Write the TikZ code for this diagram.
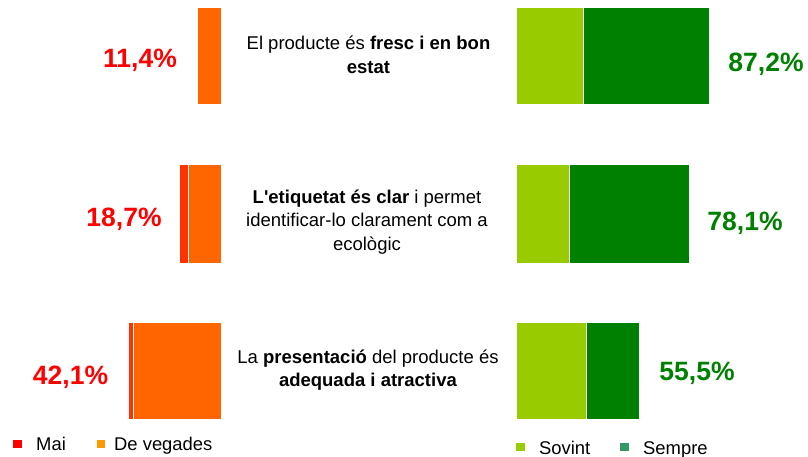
\documentclass[tikz,border=0pt]{standalone}
\usepackage{fontspec}
\setmainfont{Liberation Sans}
\usetikzlibrary{calc}
\definecolor{maiColor}{HTML}{FF3300}
\definecolor{vegadesColor}{HTML}{FF6600}
\definecolor{sovintColor}{HTML}{99CC00}
\definecolor{sempreColor}{HTML}{008000}
\definecolor{maiKey}{HTML}{FF0000}
\definecolor{vegadesKey}{HTML}{FF9900}
\definecolor{sempreKey}{HTML}{339966}
\tikzset{bar/.style = {draw=white, line width=0.6pt}}
\tikzset{pctNeg/.style = {anchor=base, text=red, font=\fontsize{26.5}{30}\selectfont\bfseries, inner sep=0pt}}
\tikzset{pctPos/.style = {anchor=base, text=sempreColor, font=\fontsize{26.5}{30}\selectfont\bfseries, inner sep=0pt}}
\tikzset{item/.style = {align=center, inner sep=0pt, font=\fontsize{18.5}{23.5}\selectfont}}
\tikzset{keytext/.style = {anchor=base west, inner sep=0pt, font=\fontsize{18.4}{22}\selectfont}}

\begin{document}
\begin{tikzpicture}[x=1pt, y=-1pt]
    \useasboundingbox (0,0) rectangle (808,457);
    \def\mid{221}
    \def\start{516}

    % row 1
    \filldraw[bar, fill=vegadesColor] (197,7) rectangle (\mid,104);
    \filldraw[bar, fill=sovintColor] (\start,7) rectangle (583.5,104);
    \filldraw[bar, fill=sempreColor] (583.5,7) rectangle (709.5,104);
    \node[pctNeg] (neg1) at (140,67.5) {11,4\%};
    \node[pctPos] (pos1) at (766,71.5) {87,2\%};
    \node[item] (item1) at (368.5,55) {El producte és \textbf{fresc i en bon}\\\textbf{estat}};

    % row 2
    \filldraw[bar, fill=maiColor] (179.5,164) rectangle (188,263);
    \filldraw[bar, fill=vegadesColor] (188,164) rectangle (\mid,263);
    \filldraw[bar, fill=sovintColor] (\start,164) rectangle (569,263);
    \filldraw[bar, fill=sempreColor] (569,164) rectangle (689.5,263);
    \node[pctNeg] (neg2) at (124,226) {18,7\%};
    \node[pctPos] (pos2) at (745,230) {78,1\%};
    \node[item] (item2) at (367,222) {\textbf{L\textquotesingle etiquetat és clar} i permet\\identificar-lo clarament com a\\ecològic};

    % row 3
    \filldraw[bar, fill=maiColor] (128.5,322.5) rectangle (133,419.5);
    \filldraw[bar, fill=vegadesColor] (133,322.5) rectangle (\mid,419.5);
    \filldraw[bar, fill=sovintColor] (\start,322.5) rectangle (586,419.5);
    \filldraw[bar, fill=sempreColor] (586,322.5) rectangle (639,419.5);
    \node[pctNeg] (neg3) at (70.5,384) {42,1\%};
    \node[pctPos] (pos3) at (697,380) {55,5\%};
    \node[item] (item3) at (368,370) {La \textbf{presentació} del producte és\\\textbf{adequada i atractiva}};

    % legend
    \fill[maiKey] (12.5,439.5) rectangle (21.5,447.5);
    \node[keytext] (mai) at (36,450.5) {Mai};
    \fill[vegadesKey] (97,439.5) rectangle (105,447.5);
    \node[keytext] (vegades) at (114,450.5) {De vegades};
    \fill[sovintColor] (515.5,442.5) rectangle (524.5,450.5);
    \node[keytext] (sovint) at (539,454) {Sovint};
    \fill[sempreKey] (620,442.5) rectangle (628.5,450.5);
    \node[keytext] (sempre) at (643,454) {Sempre};
\end{tikzpicture}
\end{document}
